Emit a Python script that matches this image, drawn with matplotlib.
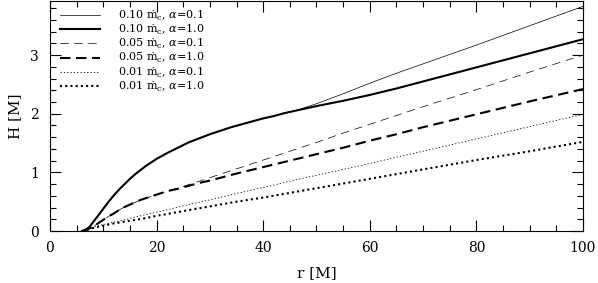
import matplotlib
matplotlib.use("Agg")
from matplotlib import pyplot as plt
from matplotlib.ticker import MultipleLocator

plt.rcParams['font.family'] = ['DejaVu Serif']
plt.rcParams['mathtext.fontset'] = 'dejavuserif'

# radius grids [M]
r_solid = [6, 6.5, 7, 7.5, 8, 9, 10, 11, 12, 13, 14, 15, 16, 17, 18, 19, 20, 22, 24, 26, 28, 30,
           32, 34, 36, 38, 40, 42, 44, 46, 48, 50, 55, 60, 65, 70, 75, 80, 90, 100]
r_dash = [6, 7, 8, 9, 10, 11, 12, 13, 14, 15, 16, 17, 18, 19, 20, 22, 24, 26, 28, 30, 35, 40,
          45, 50, 55, 60, 65, 70, 80, 90, 100]
r_dot = [6, 7, 8, 9, 10, 12, 14, 16, 18, 20, 22, 25, 30, 35, 40, 45, 50, 55, 60, 65, 70, 80, 90, 100]

# scale height H [M]
h_010_a10 = [0, 0.01, 0.04, 0.08, 0.14, 0.26, 0.38, 0.50, 0.61, 0.71, 0.80, 0.89, 0.97, 1.04, 1.11,
             1.17, 1.23, 1.33, 1.42, 1.51, 1.58, 1.65, 1.71, 1.77, 1.82, 1.87, 1.92, 1.96, 2.01, 2.05,
             2.09, 2.13, 2.22, 2.32, 2.43, 2.55, 2.67, 2.79, 3.03, 3.27]
h_010_a01 = [0, 0.01, 0.04, 0.08, 0.14, 0.26, 0.38, 0.50, 0.61, 0.71, 0.80, 0.89, 0.97, 1.04, 1.11,
             1.17, 1.23, 1.33, 1.42, 1.51, 1.58, 1.65, 1.71, 1.77, 1.82, 1.87, 1.92, 1.96, 2.01, 2.05,
             2.11, 2.17, 2.34, 2.52, 2.69, 2.85, 3.01, 3.17, 3.50, 3.83]
h_005_a01 = [0, 0.03, 0.07, 0.13, 0.19, 0.25, 0.30, 0.36, 0.41, 0.45, 0.49, 0.53, 0.56, 0.59, 0.62,
             0.68, 0.73, 0.79, 0.85, 0.91, 1.06, 1.21, 1.36, 1.51, 1.67, 1.82, 1.97, 2.12, 2.41, 2.71, 3.00]
h_005_a10 = [0, 0.03, 0.07, 0.13, 0.19, 0.25, 0.30, 0.36, 0.41, 0.45, 0.49, 0.53, 0.56, 0.59, 0.62,
             0.68, 0.72, 0.77, 0.82, 0.86, 0.98, 1.09, 1.20, 1.31, 1.42, 1.54, 1.65, 1.77, 1.99, 2.21, 2.42]
h_001_a01 = [0, 0.03, 0.06, 0.09, 0.11, 0.15, 0.19, 0.24, 0.28, 0.32, 0.36, 0.43, 0.53, 0.64, 0.74, 0.85,
             0.95, 1.05, 1.15, 1.26, 1.36, 1.57, 1.78, 1.99]
h_001_a10 = [0, 0.02, 0.05, 0.07, 0.09, 0.13, 0.16, 0.19, 0.22, 0.26, 0.29, 0.34, 0.42, 0.50, 0.57, 0.65,
             0.73, 0.81, 0.89, 0.97, 1.05, 1.21, 1.36, 1.52]

labels = [r'0.10 $\dot{\rm m}_{\rm c}$, $\alpha$=0.1',
          r'0.10 $\dot{\rm m}_{\rm c}$, $\alpha$=1.0',
          r'0.05 $\dot{\rm m}_{\rm c}$, $\alpha$=0.1',
          r'0.05 $\dot{\rm m}_{\rm c}$, $\alpha$=1.0',
          r'0.01 $\dot{\rm m}_{\rm c}$, $\alpha$=0.1',
          r'0.01 $\dot{\rm m}_{\rm c}$, $\alpha$=1.0']

fig = plt.figure(figsize=(5.98, 2.83), dpi=100)
ax = fig.add_axes([0.0836, 0.1837, 0.8913, 0.8145])

ax.plot(r_solid, h_010_a01, color='black', lw=0.5, ls='-', label=labels[0])
ax.plot(r_solid, h_010_a10, color='black', lw=1.5, ls='-', label=labels[1])
ax.plot(r_dash, h_005_a01, color='black', lw=0.5, ls=(0, (12, 8)), label=labels[2])
ax.plot(r_dash, h_005_a10, color='black', lw=1.5, ls=(0, (5, 2.7)), label=labels[3])
ax.plot(r_dot, h_001_a01, color='black', lw=0.6, ls=(0, (1.5, 2.5)), label=labels[4])
ax.plot(r_dot, h_001_a10, color='black', lw=1.5, ls=(0, (1, 1.5)), label=labels[5])

ax.set_xlim(0, 100)
ax.set_ylim(0, 3.93)
ax.xaxis.set_major_locator(MultipleLocator(20))
ax.xaxis.set_minor_locator(MultipleLocator(5))
ax.yaxis.set_major_locator(MultipleLocator(1))
ax.yaxis.set_minor_locator(MultipleLocator(0.2))
ax.tick_params(which='both', direction='in', top=True, right=True, labelsize=10)
ax.tick_params(which='major', length=8, width=0.8)
ax.tick_params(which='minor', length=4, width=0.8)
ax.tick_params(axis='x', which='major', pad=7)
ax.tick_params(axis='y', which='major', pad=8)

ax.set_xlabel('r [M]', fontsize=11, labelpad=8)
ax.set_ylabel('H [M]', fontsize=11, labelpad=6)

ax.legend(loc='upper left', frameon=False, fontsize=8, handlelength=3.6,
          handletextpad=1.6, labelspacing=0.0, borderaxespad=0.3,
          bbox_to_anchor=(0.004, 1.0))

fig.savefig('out.png', dpi=100)
